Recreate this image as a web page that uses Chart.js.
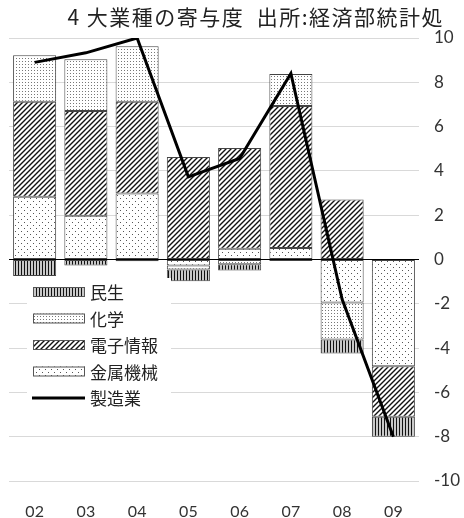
<!DOCTYPE html>
<html lang="ja">
<head>
    <meta charset="UTF-8">
    <title>4大業種の寄与度</title>
    <script src="https://cdn.jsdelivr.net/npm/chart.js"></script>
    <style>
        body { margin: 0; background: #fff; }
        #contribChart { display: block; }
    </style>
</head>
<body>
<canvas id="contribChart" width="464" height="518"></canvas>
<script>
  // values
  const years = ['02', '03', '04', '05', '06', '07', '08', '09'];
  const metalMachinery = [2.83, 1.97, 2.98, -0.27, 0.48, 0.52, -1.94, -4.82];
  const electronics = [4.29, 4.73, 4.14, 4.63, 4.55, 6.41, 2.71, -2.28];
  const chemicals = [2.10, 2.34, 2.51, -0.18, -0.22, 1.45, -1.67, 0];
  const consumer = [-0.75, -0.27, -0.08, -0.53, -0.28, -0.07, -0.63, -0.90];
  const manufacturing = [8.90, 9.33, 10.0, 3.73, 4.56, 8.40, -1.80, -8.00];
  const yTicks = [-10, -8, -6, -4, -2, 0, 2, 4, 6, 8, 10];

  const titleText = '4 大業種の寄与度  出所:経済部統計処';
  const cjk = '"Noto Sans CJK JP", sans-serif';
  Chart.defaults.font.family = 'Lato, "Noto Sans CJK JP", sans-serif';

  // little canvases used as fill patterns
  function makePattern(w, h, draw) {
    const c = document.createElement('canvas');
    c.width = w; c.height = h;
    const g = c.getContext('2d');
    g.fillStyle = '#fff';
    g.fillRect(0, 0, w, h);
    draw(g);
    return g.createPattern(c, 'repeat');
  }

  const stripes = makePattern(3, 3, g => {
    g.fillStyle = '#c8c8c8'; g.fillRect(0, 0, 3, 3);
    g.fillStyle = '#111'; g.fillRect(0, 0, 1, 3);
  });
  const denseDots = makePattern(3, 3, g => {
    g.fillStyle = '#777'; g.fillRect(1, 1, 1, 1);
  });
  const hatch = makePattern(5, 5, g => {
    g.strokeStyle = '#111';
    g.lineWidth = 1.4;
    g.beginPath();
    g.moveTo(-1, 6); g.lineTo(6, -1);
    g.moveTo(-1, 1); g.lineTo(1, -1);
    g.moveTo(4, 6); g.lineTo(6, 4);
    g.stroke();
  });
  const sparseDots = makePattern(6, 6, g => {
    g.fillStyle = '#555';
    g.fillRect(0, 0, 1, 1);
    g.fillRect(3, 3, 1, 1);
  });

  function barSet(label, data, fill) {
    return {
      label: label,
      data: data,
      backgroundColor: fill,
      borderColor: '#444',
      borderWidth: 1,
      borderSkipped: false,
      barPercentage: 0.84,
      categoryPercentage: 1,
      order: 1
    };
  }

  // legend drawn inside the plot, on a white box
  const boxLegend = {
    id: 'boxLegend',
    afterDraw(chart) {
      const ctx = chart.ctx;
      const area = chart.chartArea;
      const left = area.left + 18;
      const sets = chart.data.datasets;
      const order = [3, 2, 1, 0, 4];
      ctx.save();
      ctx.fillStyle = '#fff';
      ctx.fillRect(area.left + 18, 278, 144, 134);
      ctx.font = '17px ' + cjk;
      ctx.textBaseline = 'middle';
      order.forEach((idx, i) => {
        const ds = sets[idx];
        const y = 292 + i * 26.5;
        if (ds.type === 'line') {
          ctx.strokeStyle = '#000';
          ctx.lineWidth = 3;
          ctx.beginPath();
          ctx.moveTo(left + 5, y);
          ctx.lineTo(left + 58, y);
          ctx.stroke();
        } else {
          ctx.fillStyle = ds.backgroundColor;
          ctx.fillRect(left + 6, y - 5, 52, 10);
          ctx.strokeStyle = '#555';
          ctx.lineWidth = 1;
          ctx.strokeRect(left + 6.5, y - 4.5, 51, 9);
        }
        ctx.fillStyle = '#222';
        ctx.textAlign = 'left';
        ctx.fillText(ds.label, left + 63, y + 1);
      });
      ctx.restore();
    }
  };

  const topTitle = {
    id: 'topTitle',
    afterDraw(chart) {
      const ctx = chart.ctx;
      ctx.save();
      ctx.font = '21px ' + cjk;
      ctx.letterSpacing = '1.5px';
      ctx.fillStyle = '#222';
      ctx.textAlign = 'right';
      ctx.textBaseline = 'middle';
      ctx.fillText(titleText, chart.width - 20, 17);
      ctx.restore();
    }
  };

  const ctx = document.getElementById('contribChart').getContext('2d');
  const contribChart = new Chart(ctx, {
    type: 'bar',
    data: {
      labels: years,
      datasets: [
        barSet('金属機械', metalMachinery, sparseDots),
        barSet('電子情報', electronics, hatch),
        barSet('化学', chemicals, denseDots),
        barSet('民生', consumer, stripes),
        {
          type: 'line',
          label: '製造業',
          data: manufacturing,
          stack: 'total',
          borderColor: '#000',
          borderWidth: 3,
          pointRadius: 0,
          tension: 0,
          fill: false,
          order: 0
        }
      ]
    },
    options: {
      responsive: false,
      animation: false,
      layout: { padding: { top: 38, right: 0, bottom: 0, left: 9 } },
      plugins: {
        legend: { display: false },
        title: { display: false },
        tooltip: { enabled: false }
      },
      scales: {
        x: {
          stacked: true,
          afterFit: axis => { axis.height = 37; },
          grid: { display: false, drawTicks: false },
          border: { display: false },
          ticks: { color: '#333', font: { size: 16 }, padding: 21 }
        },
        y: {
          position: 'right',
          stacked: true,
          min: yTicks[0],
          max: yTicks[yTicks.length - 1],
          afterBuildTicks: axis => { axis.ticks = yTicks.map(v => ({ value: v })); },
          afterFit: axis => { axis.width = 45; },
          border: { display: false },
          grid: {
            drawTicks: false,
            color: c => (c.tick && c.tick.value === 0) ? '#000' : '#d9d9d9'
          },
          ticks: { color: '#333', font: { size: 17 }, padding: 15 }
        }
      }
    },
    plugins: [boxLegend, topTitle]
  });
</script>
</body>
</html>
